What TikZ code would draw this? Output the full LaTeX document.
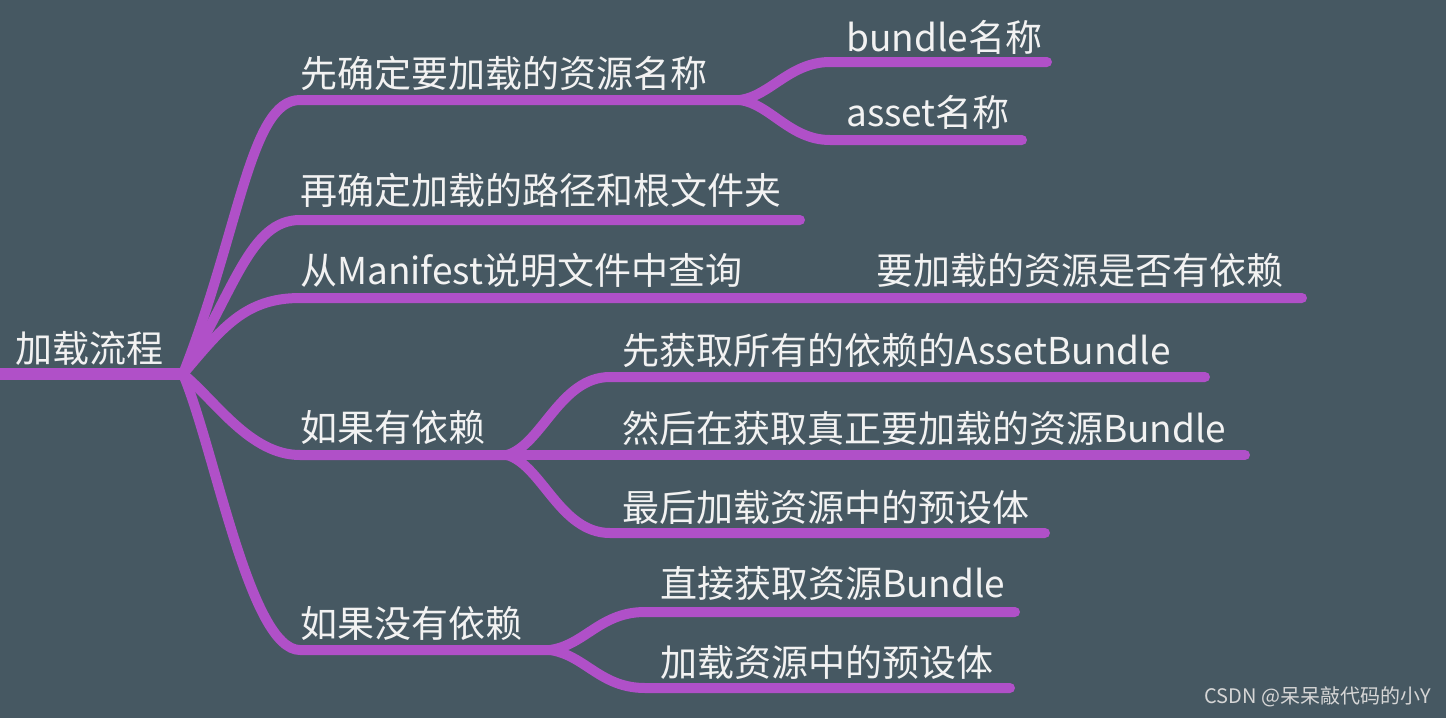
\documentclass[tikz,border=0pt]{standalone}
\usepackage{fontspec}
\setmainfont{Noto Sans CJK SC}
\definecolor{bg}{HTML}{465862}
\definecolor{br}{HTML}{B050C8}
\definecolor{tx}{HTML}{F2F2F2}
\definecolor{wmc}{HTML}{D6D6D6}
\tikzset{
  conn/.style={draw=br, line width=10pt, line cap=round, line join=round},
  rootconn/.style={draw=br, line width=12pt, line cap=butt},
  lbl/.style={anchor=west, inner sep=0pt, text=tx, font=\fontsize{37}{40}\selectfont},
  wmark/.style={anchor=east, inner sep=0pt, text=wmc, font=\fontsize{20}{22}\selectfont},
}
\begin{document}
\begin{tikzpicture}[x=1pt,y=-1pt]
\fill[bg] (0,0) rectangle (1446,718);
\useasboundingbox (0,0) rectangle (1446,718);

% coordinates
\coordinate (rootL) at (0,374);
\coordinate (hub) at (183,374);
\coordinate (b1s) at (300,100);
\coordinate (b1e) at (740,100);
\coordinate (b1a) at (830,62);
\coordinate (b1ae) at (1047,62);
\coordinate (b1b) at (830,140);
\coordinate (b1be) at (1022,140);
\coordinate (b2s) at (300,220);
\coordinate (b2e) at (800,220);
\coordinate (b3s) at (300,298);
\coordinate (b3e) at (1302,298);
\coordinate (b4s) at (300,455);
\coordinate (b4e) at (507,455);
\coordinate (b4a) at (610,377);
\coordinate (b4ae) at (1205,377);
\coordinate (b4be) at (1245,455);
\coordinate (b4c) at (610,533);
\coordinate (b4ce) at (1045,533);
\coordinate (b5s) at (300,650);
\coordinate (b5e) at (550,650);
\coordinate (b5a) at (645,612);
\coordinate (b5ae) at (1015,612);
\coordinate (b5b) at (645,688);
\coordinate (b5be) at (1010,688);

% connectors
\draw[rootconn] (rootL) -- (hub);
\draw[conn] (hub) .. controls (240,230) and (250,100) .. (b1s) -- (b1e);
\draw[conn] (b1e) .. controls (770,96) and (790,62) .. (b1a) -- (b1ae);
\draw[conn] (b1e) .. controls (770,104) and (790,140) .. (b1b) -- (b1be);
\draw[conn] (hub) .. controls (235,290) and (250,220) .. (b2s) -- (b2e);
\draw[conn] (hub) .. controls (222,328) and (245,298) .. (b3s) -- (b3e);
\draw[conn] (hub) .. controls (215,400) and (250,455) .. (b4s) -- (b4e);
\draw[conn] (b4e) .. controls (542,445) and (560,377) .. (b4a) -- (b4ae);
\draw[conn] (b4e) -- (b4be);
\draw[conn] (b4e) .. controls (542,465) and (560,533) .. (b4c) -- (b4ce);
\draw[conn] (hub) .. controls (215,450) and (250,650) .. (b5s) -- (b5e);
\draw[conn] (b5e) .. controls (585,645) and (600,612) .. (b5a) -- (b5ae);
\draw[conn] (b5e) .. controls (585,655) and (600,688) .. (b5b) -- (b5be);

% labels
\node[lbl] (root) at (15,348) {加载流程};
\node[lbl] (n1) at (300,73) {先确定要加载的资源名称};
\node[lbl] (n1a) at (846,37) {bundle名称};
\node[lbl] (n1b) at (846,112) {asset名称};
\node[lbl] (n2) at (300,190) {再确定加载的路径和根文件夹};
\node[lbl] (n3) at (300,270) {从Manifest说明文件中查询};
\node[lbl] (n3a) at (876,270) {要加载的资源是否有依赖};
\node[lbl] (n4) at (300,427) {如果有依赖};
\node[lbl] (n4a) at (622,350) {先获取所有的依赖的AssetBundle};
\node[lbl] (n4b) at (622,428) {然后在获取真正要加载的资源Bundle};
\node[lbl] (n4c) at (622,507) {最后加载资源中的预设体};
\node[lbl] (n5) at (300,623) {如果没有依赖};
\node[lbl] (n5a) at (660,583) {直接获取资源Bundle};
\node[lbl] (n5b) at (660,662) {加载资源中的预设体};
\node[wmark] (wm) at (1431,697) {CSDN @呆呆敲代码的小Y};
\end{tikzpicture}
\end{document}
